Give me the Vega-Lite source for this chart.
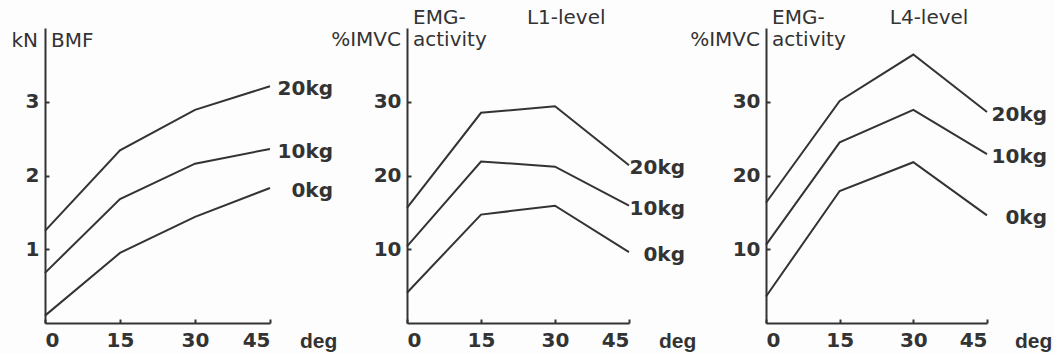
{
  "$schema": "https://vega.github.io/schema/vega-lite/v6.json",
  "background": "#fdfdfd",
  "padding": {"left": 11, "top": 8, "right": 5, "bottom": 5},
  "config": {
    "view": {"stroke": null},
    "axis": {"domainColor": "#333333", "domainWidth": 2, "tickColor": "#333333", "tickWidth": 2, "tickSize": -4, "labelColor": "#333333", "labelFont": "DejaVu Sans", "labelFontWeight": "bold", "labelFontSize": 20, "grid": false, "title": null, "format": "d"},
    "axisX": {"labelBaseline": "top", "labelPadding": 11},
    "axisY": {"labelBaseline": "middle", "labelPadding": 10},
    "line": {"color": "#333333", "strokeWidth": 2},
    "text": {"color": "#333333", "font": "DejaVu Sans", "baseline": "middle"}
  },
  "datasets": {
    "bmf": [
      {"load": "20kg", "angle": 0, "value": 1.25}, {"load": "20kg", "angle": 15, "value": 2.34}, {"load": "20kg", "angle": 30, "value": 2.89}, {"load": "20kg", "angle": 45, "value": 3.21},
      {"load": "10kg", "angle": 0, "value": 0.68}, {"load": "10kg", "angle": 15, "value": 1.68}, {"load": "10kg", "angle": 30, "value": 2.16}, {"load": "10kg", "angle": 45, "value": 2.36},
      {"load": "0kg", "angle": 0, "value": 0.10}, {"load": "0kg", "angle": 15, "value": 0.95}, {"load": "0kg", "angle": 30, "value": 1.44}, {"load": "0kg", "angle": 45, "value": 1.83}
    ],
    "l1": [
      {"load": "20kg", "angle": 0, "value": 15.6}, {"load": "20kg", "angle": 15, "value": 28.5}, {"load": "20kg", "angle": 30, "value": 29.4}, {"load": "20kg", "angle": 45, "value": 21.4},
      {"load": "10kg", "angle": 0, "value": 10.4}, {"load": "10kg", "angle": 15, "value": 21.9}, {"load": "10kg", "angle": 30, "value": 21.2}, {"load": "10kg", "angle": 45, "value": 15.9},
      {"load": "0kg", "angle": 0, "value": 4.1}, {"load": "0kg", "angle": 15, "value": 14.7}, {"load": "0kg", "angle": 30, "value": 15.9}, {"load": "0kg", "angle": 45, "value": 9.6}
    ],
    "l4": [
      {"load": "20kg", "angle": 0, "value": 16.3}, {"load": "20kg", "angle": 15, "value": 30.1}, {"load": "20kg", "angle": 30, "value": 36.4}, {"load": "20kg", "angle": 45, "value": 28.6},
      {"load": "10kg", "angle": 0, "value": 10.6}, {"load": "10kg", "angle": 15, "value": 24.5}, {"load": "10kg", "angle": 30, "value": 28.9}, {"load": "10kg", "angle": 45, "value": 22.9},
      {"load": "0kg", "angle": 0, "value": 3.6}, {"load": "0kg", "angle": 15, "value": 17.9}, {"load": "0kg", "angle": 30, "value": 21.8}, {"load": "0kg", "angle": 45, "value": 14.6}
    ]
  },
  "bounds": "flush",
  "spacing": 137,
  "hconcat": [
    {
      "width": 225, "height": 295,
      "layer": [
        {"data": {"name": "bmf"}, "mark": {"type": "line"}, "encoding": {
          "x": {"field": "angle", "type": "quantitative", "scale": {"domain": [0, 45], "nice": false}, "axis": {"values": [0, 15, 30, 45]}},
          "y": {"field": "value", "type": "quantitative", "scale": {"domain": [0, 4], "nice": false}, "axis": {"values": [1, 2, 3]}},
          "detail": {"field": "load"}}},
        {"data": {"name": "bmf"}, "transform": [{"filter": "datum.angle == 45"}], "mark": {"type": "text", "align": "right", "dx": 63, "dy": 3, "fontSize": 20, "fontWeight": "bold"}, "encoding": {
          "x": {"field": "angle", "type": "quantitative"},
          "y": {"field": "value", "type": "quantitative"},
          "text": {"field": "load"}}},
        {"data": {"values": [{"t": "kN"}]}, "mark": {"type": "text", "align": "right", "dx": -7, "dy": 13, "fontSize": 20}, "encoding": {"x": {"datum": 0}, "y": {"datum": 4}, "text": {"field": "t"}}},
        {"data": {"values": [{"t": "BMF"}]}, "mark": {"type": "text", "align": "left", "dx": 6, "dy": 13, "fontSize": 20}, "encoding": {"x": {"datum": 0}, "y": {"datum": 4}, "text": {"field": "t"}}},
        {"data": {"values": [{"t": "deg"}]}, "mark": {"type": "text", "align": "left", "dx": 30, "dy": 19, "fontSize": 21, "fontWeight": "bold", "font": "Liberation Sans"}, "encoding": {"x": {"datum": 45}, "y": {"datum": 0}, "text": {"field": "t"}}}
      ]
    },
    {
      "width": 222, "height": 295,
      "layer": [
        {"data": {"name": "l1"}, "mark": {"type": "line"}, "encoding": {
          "x": {"field": "angle", "type": "quantitative", "scale": {"domain": [0, 45], "nice": false}, "axis": {"values": [0, 15, 30, 45]}},
          "y": {"field": "value", "type": "quantitative", "scale": {"domain": [0, 40], "nice": false}, "axis": {"values": [10, 20, 30]}},
          "detail": {"field": "load"}}},
        {"data": {"name": "l1"}, "transform": [{"filter": "datum.angle == 45"}], "mark": {"type": "text", "align": "right", "dx": 56, "dy": 3, "fontSize": 20, "fontWeight": "bold"}, "encoding": {
          "x": {"field": "angle", "type": "quantitative"},
          "y": {"field": "value", "type": "quantitative"},
          "text": {"field": "load"}}},
        {"data": {"values": [{"t": "%IMVC"}]}, "mark": {"type": "text", "align": "right", "dx": -6, "dy": 12, "fontSize": 20}, "encoding": {"x": {"datum": 0}, "y": {"datum": 40}, "text": {"field": "t"}}},
        {"data": {"values": [{"t": "EMG-"}]}, "mark": {"type": "text", "align": "left", "dx": 6, "dy": -10, "fontSize": 20}, "encoding": {"x": {"datum": 0}, "y": {"datum": 40}, "text": {"field": "t"}}},
        {"data": {"values": [{"t": "activity"}]}, "mark": {"type": "text", "align": "left", "dx": 6, "dy": 12, "fontSize": 20}, "encoding": {"x": {"datum": 0}, "y": {"datum": 40}, "text": {"field": "t"}}},
        {"data": {"values": [{"t": "L1-level"}]}, "mark": {"type": "text", "align": "left", "dy": -10, "fontSize": 20}, "encoding": {"x": {"datum": 24.3}, "y": {"datum": 40}, "text": {"field": "t"}}},
        {"data": {"values": [{"t": "deg"}]}, "mark": {"type": "text", "align": "left", "dx": 30, "dy": 19, "fontSize": 21, "fontWeight": "bold", "font": "Liberation Sans"}, "encoding": {"x": {"datum": 45}, "y": {"datum": 0}, "text": {"field": "t"}}}
      ]
    },
    {
      "width": 221, "height": 295,
      "layer": [
        {"data": {"name": "l4"}, "mark": {"type": "line"}, "encoding": {
          "x": {"field": "angle", "type": "quantitative", "scale": {"domain": [0, 45], "nice": false}, "axis": {"values": [0, 15, 30, 45]}},
          "y": {"field": "value", "type": "quantitative", "scale": {"domain": [0, 40], "nice": false}, "axis": {"values": [10, 20, 30]}},
          "detail": {"field": "load"}}},
        {"data": {"name": "l4"}, "transform": [{"filter": "datum.angle == 45"}], "mark": {"type": "text", "align": "right", "dx": 60, "dy": 3, "fontSize": 20, "fontWeight": "bold"}, "encoding": {
          "x": {"field": "angle", "type": "quantitative"},
          "y": {"field": "value", "type": "quantitative"},
          "text": {"field": "load"}}},
        {"data": {"values": [{"t": "%IMVC"}]}, "mark": {"type": "text", "align": "right", "dx": -6, "dy": 12, "fontSize": 20}, "encoding": {"x": {"datum": 0}, "y": {"datum": 40}, "text": {"field": "t"}}},
        {"data": {"values": [{"t": "EMG-"}]}, "mark": {"type": "text", "align": "left", "dx": 6, "dy": -10, "fontSize": 20}, "encoding": {"x": {"datum": 0}, "y": {"datum": 40}, "text": {"field": "t"}}},
        {"data": {"values": [{"t": "activity"}]}, "mark": {"type": "text", "align": "left", "dx": 6, "dy": 12, "fontSize": 20}, "encoding": {"x": {"datum": 0}, "y": {"datum": 40}, "text": {"field": "t"}}},
        {"data": {"values": [{"t": "L4-level"}]}, "mark": {"type": "text", "align": "left", "dy": -10, "fontSize": 20}, "encoding": {"x": {"datum": 25.2}, "y": {"datum": 40}, "text": {"field": "t"}}},
        {"data": {"values": [{"t": "deg"}]}, "mark": {"type": "text", "align": "left", "dx": 28, "dy": 19, "fontSize": 21, "fontWeight": "bold", "font": "Liberation Sans"}, "encoding": {"x": {"datum": 45}, "y": {"datum": 0}, "text": {"field": "t"}}}
      ]
    }
  ]
}
